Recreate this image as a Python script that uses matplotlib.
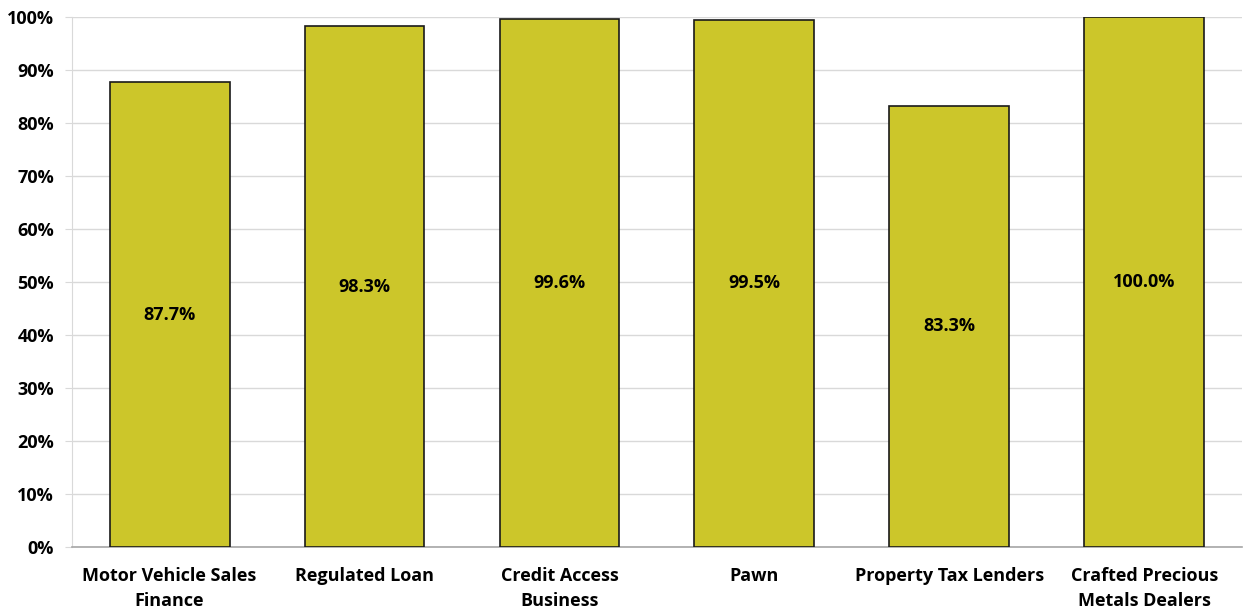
import matplotlib
matplotlib.use("Agg")
import matplotlib.pyplot as plt
import numpy as np

categories = ["Motor Vehicle Sales\nFinance", "Regulated Loan", "Credit Access\nBusiness",
              "Pawn", "Property Tax Lenders", "Crafted Precious\nMetals Dealers"]
values = [87.7, 98.3, 99.6, 99.5, 83.3, 100.0]
yticks = [0, 10, 20, 30, 40, 50, 60, 70, 80, 90, 100]

plt.rcParams['font.family'] = ['Open Sans', 'DejaVu Sans']
plt.rcParams['font.weight'] = 'bold'

fig = plt.figure(figsize=(12.43, 6.12), dpi=100)
ax = fig.add_axes([0.058, 0.106, 0.941, 0.866])

x = np.arange(len(categories))
ax.bar(x, values, width=0.615, color="#CCC62A", edgecolor="#1a1a1a", linewidth=1.2, zorder=3)

# value labels sit in the middle of each bar
for xi, v in zip(x, values):
    ax.text(xi, v / 2, f"{v:.1f}%", ha="center", va="center", fontsize=13, fontweight="bold", zorder=4)

ax.set_xlim(-0.5, len(categories) - 0.5)
ax.set_ylim(0, 100)
ax.set_yticks(yticks)
ax.set_yticklabels([f"{t}%" for t in yticks], fontsize=13, fontweight="bold")
ax.set_xticks(x)
ax.set_xticklabels(categories, fontsize=13, fontweight="bold", linespacing=1.5)
ax.grid(axis="y", color="#D9D9D9", linewidth=1, zorder=0)
ax.tick_params(axis="x", length=0, pad=14)
ax.tick_params(axis="y", length=5, color="#D9D9D9", pad=8)

for s in ["top", "right"]:
    ax.spines[s].set_visible(False)
ax.spines["left"].set_color("#D9D9D9")
ax.spines["bottom"].set_color("#A6A6A6")
ax.spines["bottom"].set_linewidth(1.2)

fig.savefig("out.png", dpi=100)
